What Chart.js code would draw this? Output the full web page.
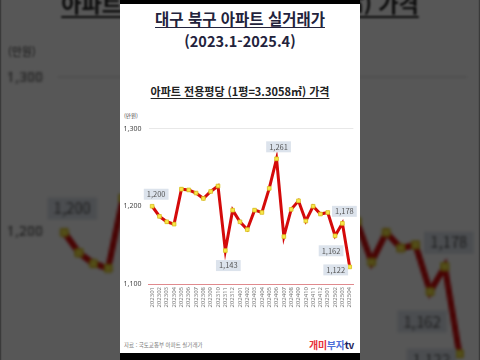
<!DOCTYPE html>
<html lang="ko">
<head>
<meta charset="UTF-8">
<title>대구 북구 아파트 실거래가</title>
<script src="https://cdn.jsdelivr.net/npm/chart.js@4/dist/chart.umd.min.js"></script>
<style>
  html, body { margin: 0; padding: 0; }
  body { width: 480px; height: 360px; overflow: hidden; background: #000; position: relative;
         font-family: "Noto Sans CJK KR", "Noto Sans", sans-serif; }
  .frame { position: absolute; left: 120px; top: 0; width: 240px; height: 360px; background: #fff; overflow: hidden; }
  .frame .bar-top { position: absolute; left: 0; top: 0; width: 240px; height: 4px; background: #000; }
  .frame .bar-bot { position: absolute; left: 0; top: 353px; width: 240px; height: 7px; background: #000; }
  .frame .t1 { position: absolute; left: 0; width: 240px; top: 8px; text-align: center; font-weight: bold;
               font-size: 15.5px; color: #23233c; text-decoration: underline; text-underline-offset: 2px; line-height: 20px; }
  .frame .t2 { position: absolute; left: 0; width: 240px; top: 31px; text-align: center; font-weight: bold;
               font-size: 14.5px; color: #23233c; line-height: 20px; }
  .frame .t3 { position: absolute; left: 0; width: 240px; top: 83px; text-align: center; font-weight: bold;
               font-size: 11px; color: #222; text-decoration: underline; text-underline-offset: 2px; line-height: 16px; }
  .frame .unit { position: absolute; left: 4px; top: 112px; font-size: 5.5px; color: #444; }
  .frame canvas { position: absolute; left: 0; top: 110px; }
  .frame .src { position: absolute; left: 4px; top: 341px; font-size: 5.5px; color: #777; }
  .frame .logo { position: absolute; right: 6px; top: 337px; font-size: 10px; font-weight: bold; letter-spacing: -0.3px; }
  #bg { transform: scale(2); transform-origin: 120px 180px; filter: brightness(0.34) blur(0.5px); }
</style>
</head>
<body>
<div class="frame" id="bg"></div>
<div class="frame" id="front"></div>

<script>
// data (만원 per 평)
const months = ['202301','202302','202303','202304','202305','202306','202307','202308','202309','202310','202311','202312',
                '202401','202402','202403','202404','202405','202406','202407','202408','202409','202410','202411','202412',
                '202501','202502','202503','202504'];
const prices = [1200, 1187, 1180, 1177, 1222, 1221, 1217, 1210, 1219, 1226, 1143, 1195,
                1180, 1170, 1195, 1192, 1223, 1261, 1161, 1196, 1207, 1181, 1200, 1190,
                1192, 1162, 1178, 1122];
const yTicks = [1100, 1200, 1300];
// which points carry a value box, and where the box sits
const labelIdx = [0, 10, 17, 25, 26, 27];
const labelPos = ['above', 'below', 'above', 'below', 'above', 'left'];

const valueBoxes = {
    id: 'valueBoxes',
    afterDatasetsDraw(chart) {
        const ctx = chart.ctx;
        const pts = chart.getDatasetMeta(0).data;
        ctx.save();
        ctx.font = '7.5px "Noto Sans CJK KR", "Noto Sans", sans-serif';
        ctx.textAlign = 'center';
        ctx.textBaseline = 'middle';
        labelIdx.forEach((i, k) => {
            const p = pts[i];
            const txt = prices[i].toLocaleString('en-US');
            const w = ctx.measureText(txt).width + 6, h = 11;
            let cx = p.x, cy = p.y;
            if (labelPos[k] === 'above') { cy = p.y - 12; cx = p.x + (i === 0 ? 4 : 2); }
            if (labelPos[k] === 'below') { cy = p.y + 15; cx = p.x + (i === 25 ? -4 : 3); }
            if (labelPos[k] === 'left') { cx = p.x - 14; cy = p.y + 3; }
            ctx.fillStyle = '#dce3ec';
            ctx.fillRect(cx - w / 2, cy - h / 2, w, h);
            ctx.fillStyle = '#555';
            ctx.fillText(txt, cx, cy);
        });
        ctx.restore();
    }
};

function buildFrame(el) {
    el.innerHTML =
        '<div class="bar-top"></div>' +
        '<div class="t1">대구 북구 아파트 실거래가</div>' +
        '<div class="t2">(2023.1-2025.4)</div>' +
        '<div class="t3">아파트 전용평당 (1평=3.3058㎡) 가격</div>' +
        '<div class="unit">(만원)</div>' +
        '<canvas width="240" height="204"></canvas>' +
        '<div class="src">자료 : 국토교통부 아파트 실거래가</div>' +
        '<div class="logo"><span style="color:#e8303a">개미</span><span style="color:#4f6fd8">부자</span><span style="color:#1c1c5a">tv</span></div>' +
        '<div class="bar-bot"></div>';

    const ctx = el.querySelector('canvas').getContext('2d');
    return new Chart(ctx, {
        type: 'line',
        data: {
            labels: months,
            datasets: [{
                data: prices,
                borderColor: '#d40a0a',
                borderWidth: 3,
                tension: 0,
                pointStyle: 'rect',
                pointRadius: 2.6,
                pointBackgroundColor: '#f7e84a',
                pointBorderColor: '#d8c020',
                pointBorderWidth: 0.8
            }]
        },
        options: {
            responsive: false,
            animation: false,
            devicePixelRatio: 1,
            layout: { padding: { top: 18.5, right: 5, bottom: 0, left: 0 } },
            plugins: { legend: { display: false }, tooltip: { enabled: false } },
            scales: {
                x: {
                    offset: true,
                    grid: { display: true, color: 'rgba(0,0,0,0)', drawTicks: false },
                    border: { display: true, color: '#e08a8e', width: 1 },
                    ticks: {
                        autoSkip: false, minRotation: 90, maxRotation: 90, padding: 3,
                        color: '#777', font: { size: 6, family: '"Noto Sans", sans-serif' }
                    },
                    afterFit: s => { s.height = 30; }
                },
                y: {
                    min: 1100, max: 1300,
                    afterBuildTicks: s => { s.ticks = yTicks.map(v => ({ value: v })); },
                    grid: {
                        drawTicks: false,
                        color: c => (c.tick && c.tick.value === 1300 ? '#e8e8e8' : 'rgba(0,0,0,0)')
                    },
                    border: { display: false },
                    ticks: {
                        padding: 7, color: '#444',
                        font: { size: 7, family: '"Noto Sans", sans-serif' },
                        callback: v => v.toLocaleString('en-US')
                    },
                    afterFit: s => { s.width = 28.5; }
                }
            }
        },
        plugins: [valueBoxes]
    });
}

buildFrame(document.getElementById('bg'));
buildFrame(document.getElementById('front'));
</script>
</body>
</html>
